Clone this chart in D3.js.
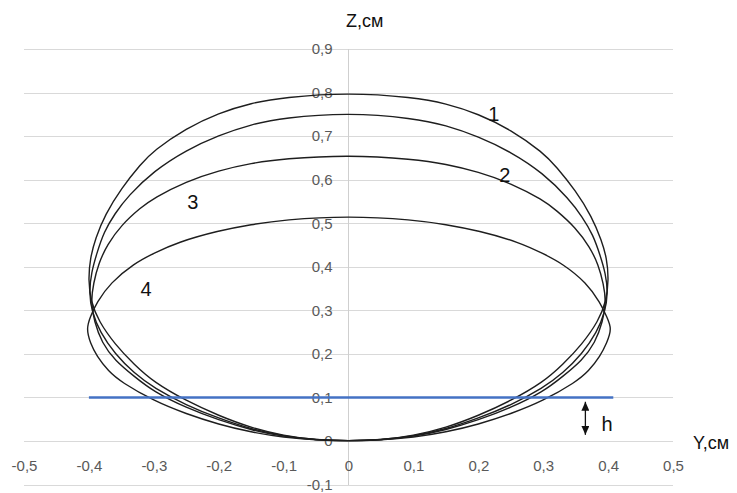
<!DOCTYPE html>
<html>
<head>
<meta charset="utf-8">
<script src="https://cdn.jsdelivr.net/npm/d3@7"></script>
<style>
  body { margin: 0; background: #fff; }
  text { font-family: "Liberation Sans", Arial, sans-serif; }
</style>
</head>
<body>
<div id="chart"></div>
<script>
  // profile points [Y, Z] in cm, going round each loop
  var curve1 = [[0,0],[0.05,0.002],[0.1,0.012],[0.15,0.03],[0.2,0.058],[0.25,0.092],[0.3,0.135],[0.33,0.175],[0.36,0.222],[0.385,0.275],[0.397,0.32],[0.401,0.37],
                [0.398,0.42],[0.39,0.46],[0.375,0.515],[0.35,0.575],[0.32,0.63],[0.3,0.662],[0.25,0.715],[0.2,0.751],[0.15,0.775],[0.1,0.789],[0,0.8],
                [-0.1,0.789],[-0.15,0.776],[-0.2,0.753],[-0.25,0.718],[-0.3,0.667],[-0.32,0.636],[-0.35,0.58],[-0.375,0.52],[-0.39,0.465],[-0.398,0.42],[-0.401,0.37],
                [-0.397,0.32],[-0.385,0.275],[-0.36,0.222],[-0.33,0.175],[-0.3,0.135],[-0.25,0.092],[-0.2,0.058],[-0.15,0.03],[-0.1,0.012],[-0.05,0.002]];
  var curve2 = [[0,0],[0.05,0.002],[0.1,0.011],[0.15,0.027],[0.2,0.052],[0.25,0.082],[0.3,0.122],[0.33,0.155],[0.36,0.2],[0.383,0.25],[0.395,0.295],[0.4,0.34],
                [0.396,0.385],[0.388,0.425],[0.377,0.473],[0.36,0.515],[0.34,0.555],[0.3,0.615],[0.25,0.664],[0.2,0.699],[0.15,0.725],[0.1,0.741],[0,0.754],
                [-0.1,0.742],[-0.15,0.727],[-0.2,0.702],[-0.25,0.668],[-0.3,0.62],[-0.34,0.562],[-0.36,0.522],[-0.377,0.48],[-0.388,0.43],[-0.396,0.388],[-0.4,0.34],
                [-0.395,0.295],[-0.383,0.25],[-0.36,0.2],[-0.33,0.155],[-0.3,0.122],[-0.25,0.082],[-0.2,0.052],[-0.15,0.027],[-0.1,0.011],[-0.05,0.002]];
  var curve3 = [[0,0],[0.05,0.002],[0.1,0.01],[0.15,0.025],[0.2,0.048],[0.25,0.076],[0.3,0.113],[0.33,0.148],[0.36,0.185],[0.38,0.225],[0.392,0.275],[0.397,0.32],
                [0.393,0.36],[0.385,0.405],[0.372,0.445],[0.35,0.49],[0.32,0.53],[0.3,0.553],[0.25,0.592],[0.2,0.618],[0.15,0.636],[0.1,0.647],[0,0.657],
                [-0.1,0.648],[-0.15,0.638],[-0.2,0.621],[-0.25,0.596],[-0.3,0.558],[-0.32,0.536],[-0.35,0.496],[-0.372,0.45],[-0.385,0.408],[-0.393,0.362],[-0.397,0.32],
                [-0.392,0.275],[-0.38,0.225],[-0.36,0.185],[-0.33,0.148],[-0.3,0.113],[-0.25,0.076],[-0.2,0.048],[-0.15,0.025],[-0.1,0.01],[-0.05,0.002]];
  var curve4 = [[0,0],[0.05,0.002],[0.1,0.008],[0.15,0.02],[0.2,0.038],[0.25,0.062],[0.3,0.092],[0.35,0.135],[0.37,0.16],[0.388,0.195],[0.398,0.225],[0.406,0.258],
                [0.398,0.285],[0.388,0.317],[0.367,0.363],[0.33,0.407],[0.3,0.43],[0.264,0.456],[0.2,0.483],[0.15,0.497],[0.1,0.508],[0,0.517],
                [-0.1,0.508],[-0.15,0.497],[-0.2,0.483],[-0.264,0.456],[-0.3,0.431],[-0.33,0.408],[-0.367,0.363],[-0.388,0.318],[-0.398,0.285],[-0.404,0.258],
                [-0.398,0.225],[-0.388,0.195],[-0.37,0.16],[-0.35,0.135],[-0.3,0.092],[-0.25,0.062],[-0.2,0.038],[-0.15,0.02],[-0.1,0.008],[-0.05,0.002]];
  var curves = [curve1, curve2, curve3, curve4];

  // curve numbers and where they sit [Y, Z]
  var curveLabels = ["1", "2", "3", "4"];
  var labelPos = [[0.224, 0.75], [0.241, 0.61], [-0.24, 0.548], [-0.312, 0.349]];

  // level line at Z = h and the h arrow
  var hLine = [[-0.4, 0.1], [0.408, 0.1]];
  var hArrow = [[0.365, 0.09], [0.365, 0.014]];

  var yDomain = [-0.5, 0.5],
      zDomain = [-0.1, 0.9];

  var width = 737, height = 493;

  var svg = d3.select("#chart")
      .append("svg")
      .attr("width", width)
      .attr("height", height);

  var x = d3.scaleLinear().domain(yDomain).range([24, 673]);
  var z = d3.scaleLinear().domain(zDomain).range([484.5, 49]);

  var loc = d3.formatLocale({ decimal: ",", thousands: " ", grouping: [3], currency: ["", ""], minus: "-" });
  var fmt = loc.format(".1~f");

  // horizontal gridlines
  svg.append("g")
      .attr("transform", "translate(" + x(0.5) + ",0)")
      .call(d3.axisLeft(z).ticks(10).tickSize(x(0.5) - x(-0.5)).tickFormat(""))
      .call(function (g) { g.select(".domain").remove(); })
      .call(function (g) { g.selectAll("line").attr("stroke", "#d9d9d9").attr("shape-rendering", "crispEdges"); });

  // vertical axis line at Y = 0
  svg.append("line")
      .attr("x1", x(0)).attr("x2", x(0))
      .attr("y1", z(-0.1)).attr("y2", z(0.9))
      .attr("stroke", "#cfcfcf")
      .attr("shape-rendering", "crispEdges");

  // Z tick labels
  svg.append("g")
      .attr("transform", "translate(" + x(0) + ",0)")
      .call(d3.axisLeft(z).ticks(10).tickSize(0).tickPadding(16).tickFormat(fmt))
      .call(function (g) { g.select(".domain").remove(); })
      .call(function (g) {
          g.selectAll("text").style("font-size", "15px").attr("fill", "#595959")
              .style("font-family", "'Liberation Sans', Arial, sans-serif");
      });

  // Y tick labels
  svg.append("g")
      .attr("transform", "translate(0," + z(0) + ")")
      .call(d3.axisBottom(x).ticks(10).tickSize(0).tickPadding(19).tickFormat(fmt))
      .call(function (g) { g.select(".domain").remove(); })
      .call(function (g) {
          g.selectAll("text").style("font-size", "15px").attr("fill", "#595959")
              .style("font-family", "'Liberation Sans', Arial, sans-serif");
      });

  // profiles
  var line = d3.line()
      .x(function (d) { return x(d[0]); })
      .y(function (d) { return z(d[1]); })
      .curve(d3.curveBasisClosed);

  svg.append("g")
      .selectAll("path")
      .data(curves)
      .enter()
      .append("path")
      .attr("d", line)
      .attr("fill", "none")
      .attr("stroke", "#1e1e1e")
      .attr("stroke-width", 1.4);

  // level line
  svg.append("path")
      .datum(hLine)
      .attr("d", d3.line().x(function (d) { return x(d[0]); }).y(function (d) { return z(d[1]); }))
      .attr("stroke", "#4472c4")
      .attr("stroke-width", 2.5)
      .attr("fill", "none");

  // h arrow
  svg.append("defs").append("marker")
      .attr("id", "head")
      .attr("markerUnits", "userSpaceOnUse")
      .attr("viewBox", "0 0 9 8")
      .attr("markerWidth", 9)
      .attr("markerHeight", 8)
      .attr("refX", 9)
      .attr("refY", 4)
      .attr("orient", "auto-start-reverse")
      .append("path")
      .attr("d", "M0,0L9,4L0,8Z")
      .attr("fill", "#111");

  svg.append("path")
      .datum(hArrow)
      .attr("d", d3.line().x(function (d) { return x(d[0]); }).y(function (d) { return z(d[1]); }))
      .attr("stroke", "#111")
      .attr("stroke-width", 1.3)
      .attr("marker-start", "url(#head)")
      .attr("marker-end", "url(#head)");

  svg.append("text")
      .attr("x", x(0.365) + 16)
      .attr("y", z(0.022))
      .style("font-size", "20px")
      .attr("fill", "#111")
      .text("h");

  // curve numbers
  svg.append("g")
      .selectAll("text")
      .data(curveLabels)
      .enter()
      .append("text")
      .attr("x", function (d, i) { return x(labelPos[i][0]); })
      .attr("y", function (d, i) { return z(labelPos[i][1]); })
      .attr("text-anchor", "middle")
      .attr("dy", "0.35em")
      .style("font-size", "20px")
      .attr("fill", "#111")
      .text(function (d) { return d; });

  // axis titles
  svg.append("text")
      .attr("x", 346)
      .attr("y", 27)
      .style("font-size", "18px")
      .attr("fill", "#111")
      .text("Z,см");

  svg.append("text")
      .attr("x", 693)
      .attr("y", 449)
      .style("font-size", "18px")
      .attr("fill", "#111")
      .text("Y,см");
</script>
</body>
</html>
